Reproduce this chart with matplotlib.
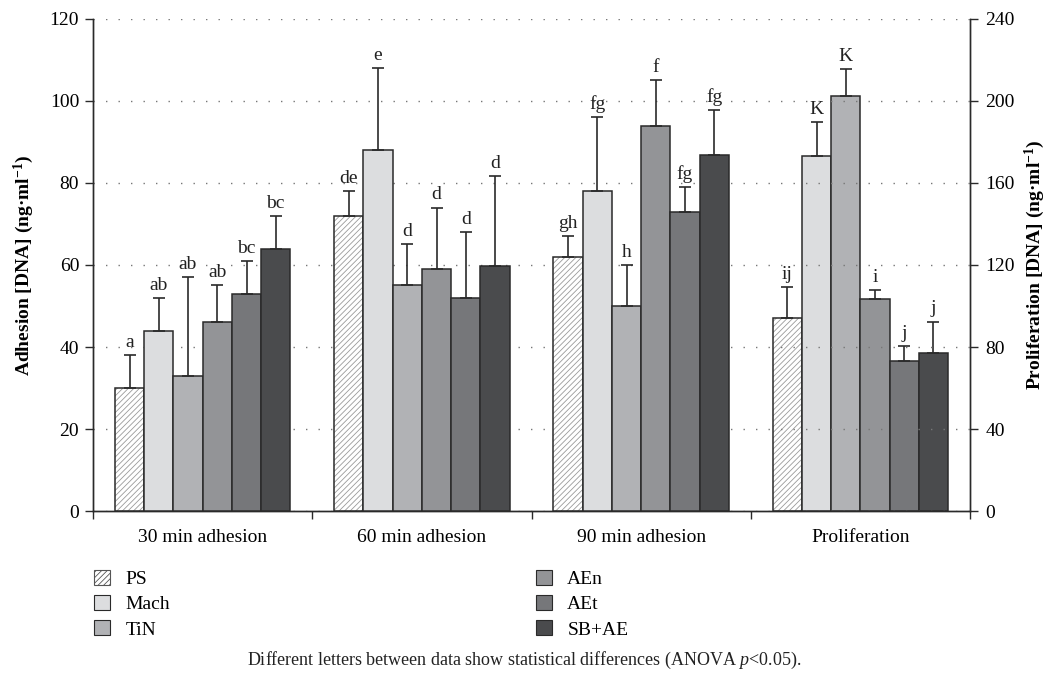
import numpy as np
import matplotlib
matplotlib.use('Agg')
import matplotlib.pyplot as plt
from matplotlib.patches import Patch

groups = ['30 min adhesion', '60 min adhesion', '90 min adhesion', 'Proliferation']
series = ['PS', 'Mach', 'TiN', 'AEn', 'AEt', 'SB+AE']
colors = ['white', '#dcdddf', '#b1b2b5', '#939497', '#76777a', '#4a4b4d']

# adhesion values (left axis), per series for the first three groups
means_30 = [30, 44, 33, 46, 53, 64]
tops_30 = [38, 52, 57, 55, 61, 72]
means_60 = [72, 88, 55, 59, 52, 59.8]
tops_60 = [78, 108, 65, 74, 68, 81.7]
means_90 = [62, 78, 50, 94, 73, 86.8]
tops_90 = [67, 96, 60, 105, 79, 97.7]
# proliferation values (right axis)
means_prol = [94, 173.3, 202.4, 103.6, 73.3, 77]
tops_prol = [109.3, 189.9, 215.6, 107.6, 80.3, 92.4]

letters_30 = ['a', 'ab', 'ab', 'ab', 'bc', 'bc']
letters_60 = ['de', 'e', 'd', 'd', 'd', 'd']
letters_90 = ['gh', 'fg', 'h', 'f', 'fg', 'fg']
letters_prol = ['ij', 'K', 'K', 'i', 'j', 'j']

plt.rcParams['font.family'] = ['Liberation Serif', 'DejaVu Serif']
plt.rcParams['mathtext.fontset'] = 'custom'
plt.rcParams['mathtext.rm'] = 'Liberation Serif'
plt.rcParams['mathtext.it'] = 'Liberation Serif:italic'
plt.rcParams['mathtext.bf'] = 'Liberation Serif:bold'
plt.rcParams['hatch.linewidth'] = 0.6

fig = plt.figure(figsize=(10.49, 6.78), dpi=100)
ax = fig.add_axes([0.0887, 0.2463, 0.836, 0.7257])
ax2 = ax.twinx()

dark = '#2a2a2a'
width = 0.8 / 6


def draw_group(axis, gi, means, tops, letters, scale):
    for si in range(6):
        x = gi + (si - 2.5) * width
        m = means[si]
        if si == 0:
            axis.bar(x, m, width, color='white', edgecolor='#9a9a9a', hatch='//////', linewidth=0, zorder=2)
            axis.bar(x, m, width, fill=False, edgecolor=dark, linewidth=1.1, zorder=3)
        else:
            axis.bar(x, m, width, color=colors[si], edgecolor=dark, linewidth=1.1, zorder=3)
        axis.errorbar(x, m, yerr=[[0], [tops[si] - m]], fmt='none', ecolor=dark,
                      elinewidth=1.2, capsize=4.3, capthick=1.2, zorder=4)
        axis.text(x, tops[si] + 1.0 * scale, letters[si], ha='center', va='bottom',
                  fontsize=14, color='#222222')


draw_group(ax, 0, means_30, tops_30, letters_30, 1)
draw_group(ax, 1, means_60, tops_60, letters_60, 1)
draw_group(ax, 2, means_90, tops_90, letters_90, 1)
draw_group(ax2, 3, means_prol, tops_prol, letters_prol, 2)

ax.set_xlim(-0.5, 3.5)
ax.set_ylim(0, 120)
ax2.set_ylim(0, 240)
ax.set_yticks(np.arange(0, 121, 20))
ax2.set_yticks(np.arange(0, 241, 40))

ax.yaxis.grid(True, linestyle=(0, (1, 8)), color='#777777', linewidth=1.0)
ax.set_axisbelow(True)
ax.set_zorder(ax2.get_zorder() + 1)
ax.patch.set_visible(False)

ax.set_xticks([-0.5, 0.5, 1.5, 2.5, 3.5])
ax.set_xticklabels([])
ax.set_xticks([0, 1, 2, 3], minor=True)
ax.set_xticklabels(groups, minor=True)
ax.tick_params(axis='x', which='major', length=6, width=1, color=dark, direction='out')
ax.tick_params(axis='x', which='minor', length=0, pad=13, labelsize=14)
ax.tick_params(axis='y', length=6, width=1, color=dark, labelsize=14, pad=4)
ax2.tick_params(axis='y', length=6, width=1, color=dark, labelsize=14, pad=5)

for a in (ax, ax2):
    a.spines['top'].set_visible(False)
    for s in ('left', 'right', 'bottom'):
        a.spines[s].set_color(dark)
        a.spines[s].set_linewidth(1.0)

ax.set_ylabel('Adhesion [DNA] (ng·ml$^{\\mathbf{-1}}$)', fontsize=14, fontweight='bold', labelpad=10)
ax2.set_ylabel('Proliferation [DNA] (ng·ml$^{\\mathbf{-1}}$)', fontsize=14, fontweight='bold', labelpad=6)

handles = [Patch(facecolor='white', edgecolor='#555555', hatch='//////', linewidth=0.8)]
handles += [Patch(facecolor=c, edgecolor=dark, linewidth=0.8) for c in colors[1:]]
fig.legend(handles, series, ncol=2, loc='center left', bbox_to_anchor=(0.073, 0.109),
           frameon=False, fontsize=14, handlelength=0.82, handleheight=0.82,
           handletextpad=0.8, labelspacing=0.36, columnspacing=18.8)

fig.text(0.5, 0.026, 'Different letters between data show statistical differences (ANOVA $\\it{p}$<0.05).',
         ha='center', va='center', fontsize=13, color='#222222')

fig.savefig('out.png', dpi=100)
